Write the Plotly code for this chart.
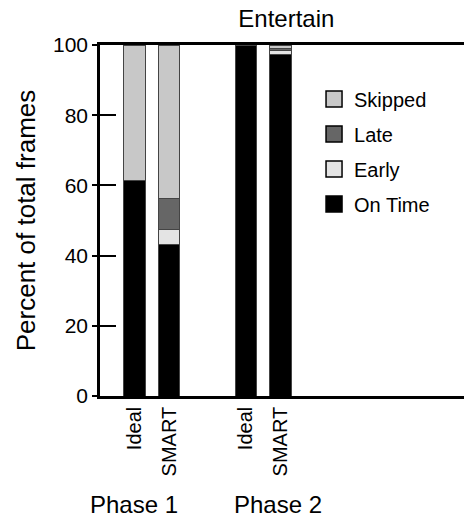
import plotly.graph_objects as go

# Frame-delivery breakdown for the Entertain workload
bar_labels = ["Ideal", "SMART", "Ideal", "SMART"]
bar_pos = [1, 2, 4.23, 5.23]          # numeric slots leave a gap between phases
phase_labels = ["Phase 1", "Phase 2"]

on_time = [61.3, 43.3, 100.0, 97.4]
early = [0.0, 4.2, 0.0, 1.0]
late = [0.0, 8.9, 0.0, 0.5]
skipped = [38.7, 43.6, 0.0, 1.1]

series = [
    ("On Time", on_time, "#000000", 4),
    ("Early", early, "#e4e4e4", 3),
    ("Late", late, "#666666", 2),
    ("Skipped", skipped, "#c8c8c8", 1),
]

FONT = "Liberation Sans, Arial, Helvetica, sans-serif"

fig = go.Figure()
for name, vals, color, rank in series:
    fig.add_trace(go.Bar(
        x=bar_pos, y=vals, name=name, width=0.62,
        marker=dict(color=color, line=dict(color="#444444", width=1)),
        legendgroup=name, showlegend=False,
    ))
    # legend key with a larger square swatch, tied to the bar series
    fig.add_trace(go.Scatter(
        x=[None], y=[None], mode="markers", name=name, legendgroup=name,
        legendrank=rank,
        marker=dict(symbol="square", size=20, color=color,
                    line=dict(color="black", width=1.5)),
    ))

# overlay axis only to give the y ticks their inner half
fig.add_trace(go.Scatter(x=[None], y=[None], yaxis="y2", showlegend=False))

fig.update_layout(
    width=464, height=518,
    margin=dict(l=100, r=0, t=45, b=122),
    barmode="stack",
    plot_bgcolor="white", paper_bgcolor="white",
    font=dict(family=FONT, color="black", size=21),
    title=dict(text="Entertain", font=dict(size=24), x=0.512, xref="paper",
               xanchor="center", y=1 - 19 / 518, yref="container", yanchor="middle"),
    xaxis=dict(range=[0, 10.55], tickvals=bar_pos, ticktext=bar_labels,
               tickangle=-90, ticks="", showline=True, linecolor="black",
               linewidth=2.5, mirror=True, showgrid=False, zeroline=False,
               tickfont=dict(size=20)),
    yaxis=dict(range=[0, 100], tickvals=[0, 20, 40, 60, 80, 100],
               ticks="outside", ticklen=5, tickwidth=2, tickcolor="black",
               showline=True, linecolor="black", linewidth=2.5,
               showgrid=False, zeroline=False, tickfont=dict(size=21),
               title=dict(text="Percent of total frames", font=dict(size=26),
                          standoff=10)),
    yaxis2=dict(range=[0, 100], overlaying="y", side="left",
                tickvals=[0, 20, 40, 60, 80, 100], ticks="inside", ticklen=16,
                tickwidth=2, tickcolor="black", showticklabels=False,
                showgrid=False, zeroline=False, showline=False),
    legend=dict(x=0.588, y=0.902, xanchor="left", yanchor="top",
                traceorder="grouped", tracegroupgap=6,
                font=dict(size=20), bgcolor="rgba(0,0,0,0)"),
    showlegend=True,
)

for i, lab in enumerate(phase_labels):
    fig.add_annotation(text=lab, xref="paper", yref="paper",
                       x=[-0.033, 0.363][i], y=-0.308, xanchor="left",
                       yanchor="middle", showarrow=False, font=dict(size=24))

fig.write_html("out.html")
